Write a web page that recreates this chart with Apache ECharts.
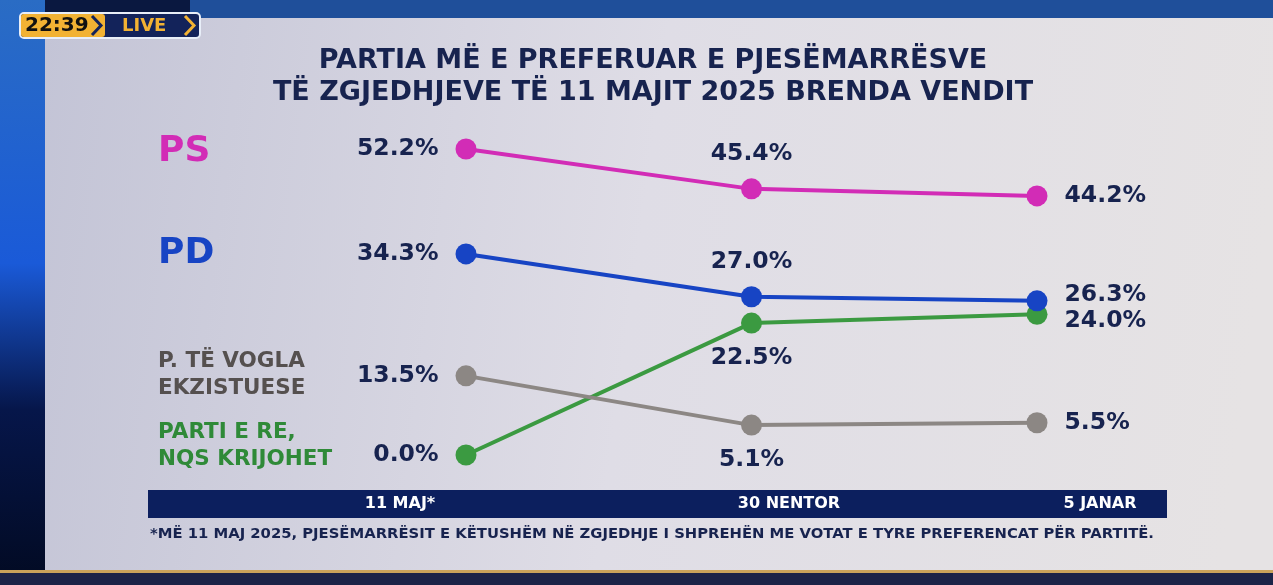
<!DOCTYPE html>
<html><head><meta charset="utf-8">
<script src="https://cdn.jsdelivr.net/npm/echarts@6/dist/echarts.min.js"></script>
<style>html,body{margin:0;padding:0;background:#0a1840;}#c{width:1273px;height:585px;}</style>
</head><body><div id="c"></div>
<script>
const categories = ['11 MAJ*', '30 NENTOR', '5 JANAR'];
const seriesNames = ['PS', 'PD', 'P. TË VOGLA\nEKZISTUESE', 'PARTI E RE,\nNQS KRIJOHET'];
const psValues = [52.2, 45.4, 44.2];
const pdValues = [34.3, 27.0, 26.3];
const smallValues = [13.5, 5.1, 5.5];
const newValues = [0.0, 22.5, 24.0];
const titleText = 'PARTIA MË E PREFERUAR E PJESËMARRËSVE\nTË ZGJEDHJEVE TË 11 MAJIT 2025 BRENDA VENDIT';
const footnote = '*MË 11 MAJ 2025, PJESËMARRËSIT E KËTUSHËM NË ZGJEDHJE I SHPREHËN ME VOTAT E TYRE PREFERENCAT PËR PARTITË.';

const FONT = '"DejaVu Sans", sans-serif';
const NAVY = '#17234f';
const colors = ['#d22cb6', '#1744c4', '#8c8784', '#3b9a41'];
const nameColors = ['#d22cb6', '#1744c4', '#55504f', '#2f8a38'];
const nameSizes = [36, 36, 21.5, 21.5];
const nameOffsets = [[-308, 3], [-308, 0], [-308, -1], [-308, -9]];
const midPos = ['top', 'top', 'bottom', 'bottom'];
const endOffset = [[0, 0], [0, -6], [0, 0], [0, 7]];
const allValues = [psValues, pdValues, smallValues, newValues];

const chart = echarts.init(document.getElementById('c'));

function makeSeries(i) {
  const vals = allValues[i];
  return {
    name: seriesNames[i],
    type: 'line',
    data: vals.map((v, j) => ({
      value: v,
      label: {
        show: true,
        position: j === 0 ? 'left' : (j === 1 ? midPos[i] : 'right'),
        distance: j === 1 ? 12 : 17,
        offset: j === 2 ? endOffset[i] : [0, 0]
      }
    })),
    symbol: 'circle',
    symbolSize: 21,
    lineStyle: { width: 4, color: colors[i] },
    itemStyle: { color: colors[i] },
    label: {
      formatter: p => p.value.toFixed(1) + '%',
      color: NAVY,
      fontFamily: FONT,
      fontWeight: 'bold',
      fontSize: 23.5
    },
    markPoint: {
      symbol: 'circle',
      symbolSize: 0,
      silent: true,
      data: [{ coord: [categories[0], vals[0]] }],
      label: {
        show: true,
        position: 'inside',
        offset: nameOffsets[i],
        align: 'left',
        verticalAlign: 'middle',
        formatter: () => seriesNames[i],
        color: nameColors[i],
        fontFamily: FONT,
        fontWeight: 'bold',
        fontSize: nameSizes[i],
        lineHeight: nameSizes[i] * 1.22
      }
    },
    z: 3 + (3 - i)
  };
}

const labelPad = [[0, 132, 0, 0], [0, 0, 0, 75], [0, 0, 0, 126]];
const rich = {};
labelPad.forEach((p, k) => { rich['l' + k] = { padding: p, color: '#ffffff', fontFamily: FONT, fontWeight: 'bold', fontSize: 16 }; });

chart.setOption({
  backgroundColor: '#0a1840',
  animation: false,
  graphic: [
    { type: 'rect', z: -10, shape: { x: 0, y: 0, width: 45, height: 585 },
      style: { fill: new echarts.graphic.LinearGradient(0, 0, 0, 1, [
        { offset: 0, color: '#2a6cc4' }, { offset: 0.45, color: '#1a5ad8' }, { offset: 0.7, color: '#06164a' }, { offset: 1, color: '#020a22' }]) } },
    { type: 'rect', z: -10, shape: { x: 190, y: 0, width: 1083, height: 20 }, style: { fill: '#1f4f9a' } },
    { type: 'rect', z: -9, shape: { x: 45, y: 18, width: 1228, height: 554 },
      style: { fill: new echarts.graphic.LinearGradient(0, 0, 1, 0.3, [
        { offset: 0, color: '#c3c4d6' }, { offset: 0.5, color: '#dfdde6' }, { offset: 1, color: '#e6e3e4' }]) } },
    { type: 'rect', z: -9, shape: { x: 0, y: 572, width: 1273, height: 13 }, style: { fill: '#1b2347' } },
    { type: 'rect', z: -8, shape: { x: 0, y: 570, width: 1273, height: 3 }, style: { fill: '#c9a25a' } },
    { type: 'rect', z: -5, shape: { x: 148, y: 490, width: 1019, height: 28 }, style: { fill: '#0c1f5e' } },
    { type: 'rect', z: 10, shape: { x: 20, y: 13, width: 180, height: 25, r: 4 }, style: { fill: '#13235a', stroke: '#e8eef8', lineWidth: 2 } },
    { type: 'rect', z: 11, shape: { x: 21, y: 14, width: 84, height: 23, r: 3 }, style: { fill: '#f2b233' } },
    { type: 'polyline', z: 12, shape: { points: [[92, 16], [101, 25.5], [92, 35]] }, style: { stroke: '#13235a', lineWidth: 3, fill: null } },
    { type: 'polyline', z: 12, shape: { points: [[185, 16], [194, 25.5], [185, 35]] }, style: { stroke: '#f2b233', lineWidth: 3, fill: null } },
    { type: 'text', z: 12, style: { x: 25, y: 26, text: '22:39', fill: '#111111', font: 'bold 20px ' + FONT, verticalAlign: 'middle' } },
    { type: 'text', z: 12, style: { x: 122, y: 26, text: 'LIVE', fill: '#f2b233', font: 'bold 18px ' + FONT, verticalAlign: 'middle' } },
    { type: 'text', z: 5, style: { x: 150, y: 534, text: footnote, fill: NAVY, font: 'bold 14.8px ' + FONT, verticalAlign: 'middle' } }
  ],
  title: {
    text: titleText,
    left: 648, top: 40, textAlign: 'center',
    textStyle: { color: NAVY, fontFamily: FONT, fontWeight: 'bold', fontSize: 27, lineHeight: 32 }
  },
  grid: { left: 466, right: 236, top: 149, bottom: 130 },
  xAxis: {
    type: 'category',
    data: categories,
    boundaryGap: false,
    axisLine: { show: false },
    axisTick: { show: false },
    splitLine: { show: false },
    axisLabel: {
      interval: 0,
      margin: 41,
      formatter: (v, k) => '{l' + k + '|' + v + '}',
      rich: rich
    }
  },
  yAxis: {
    type: 'value', min: 0, max: 52.2,
    show: false
  },
  series: [0, 1, 2, 3].map(makeSeries)
});
</script></body></html>
